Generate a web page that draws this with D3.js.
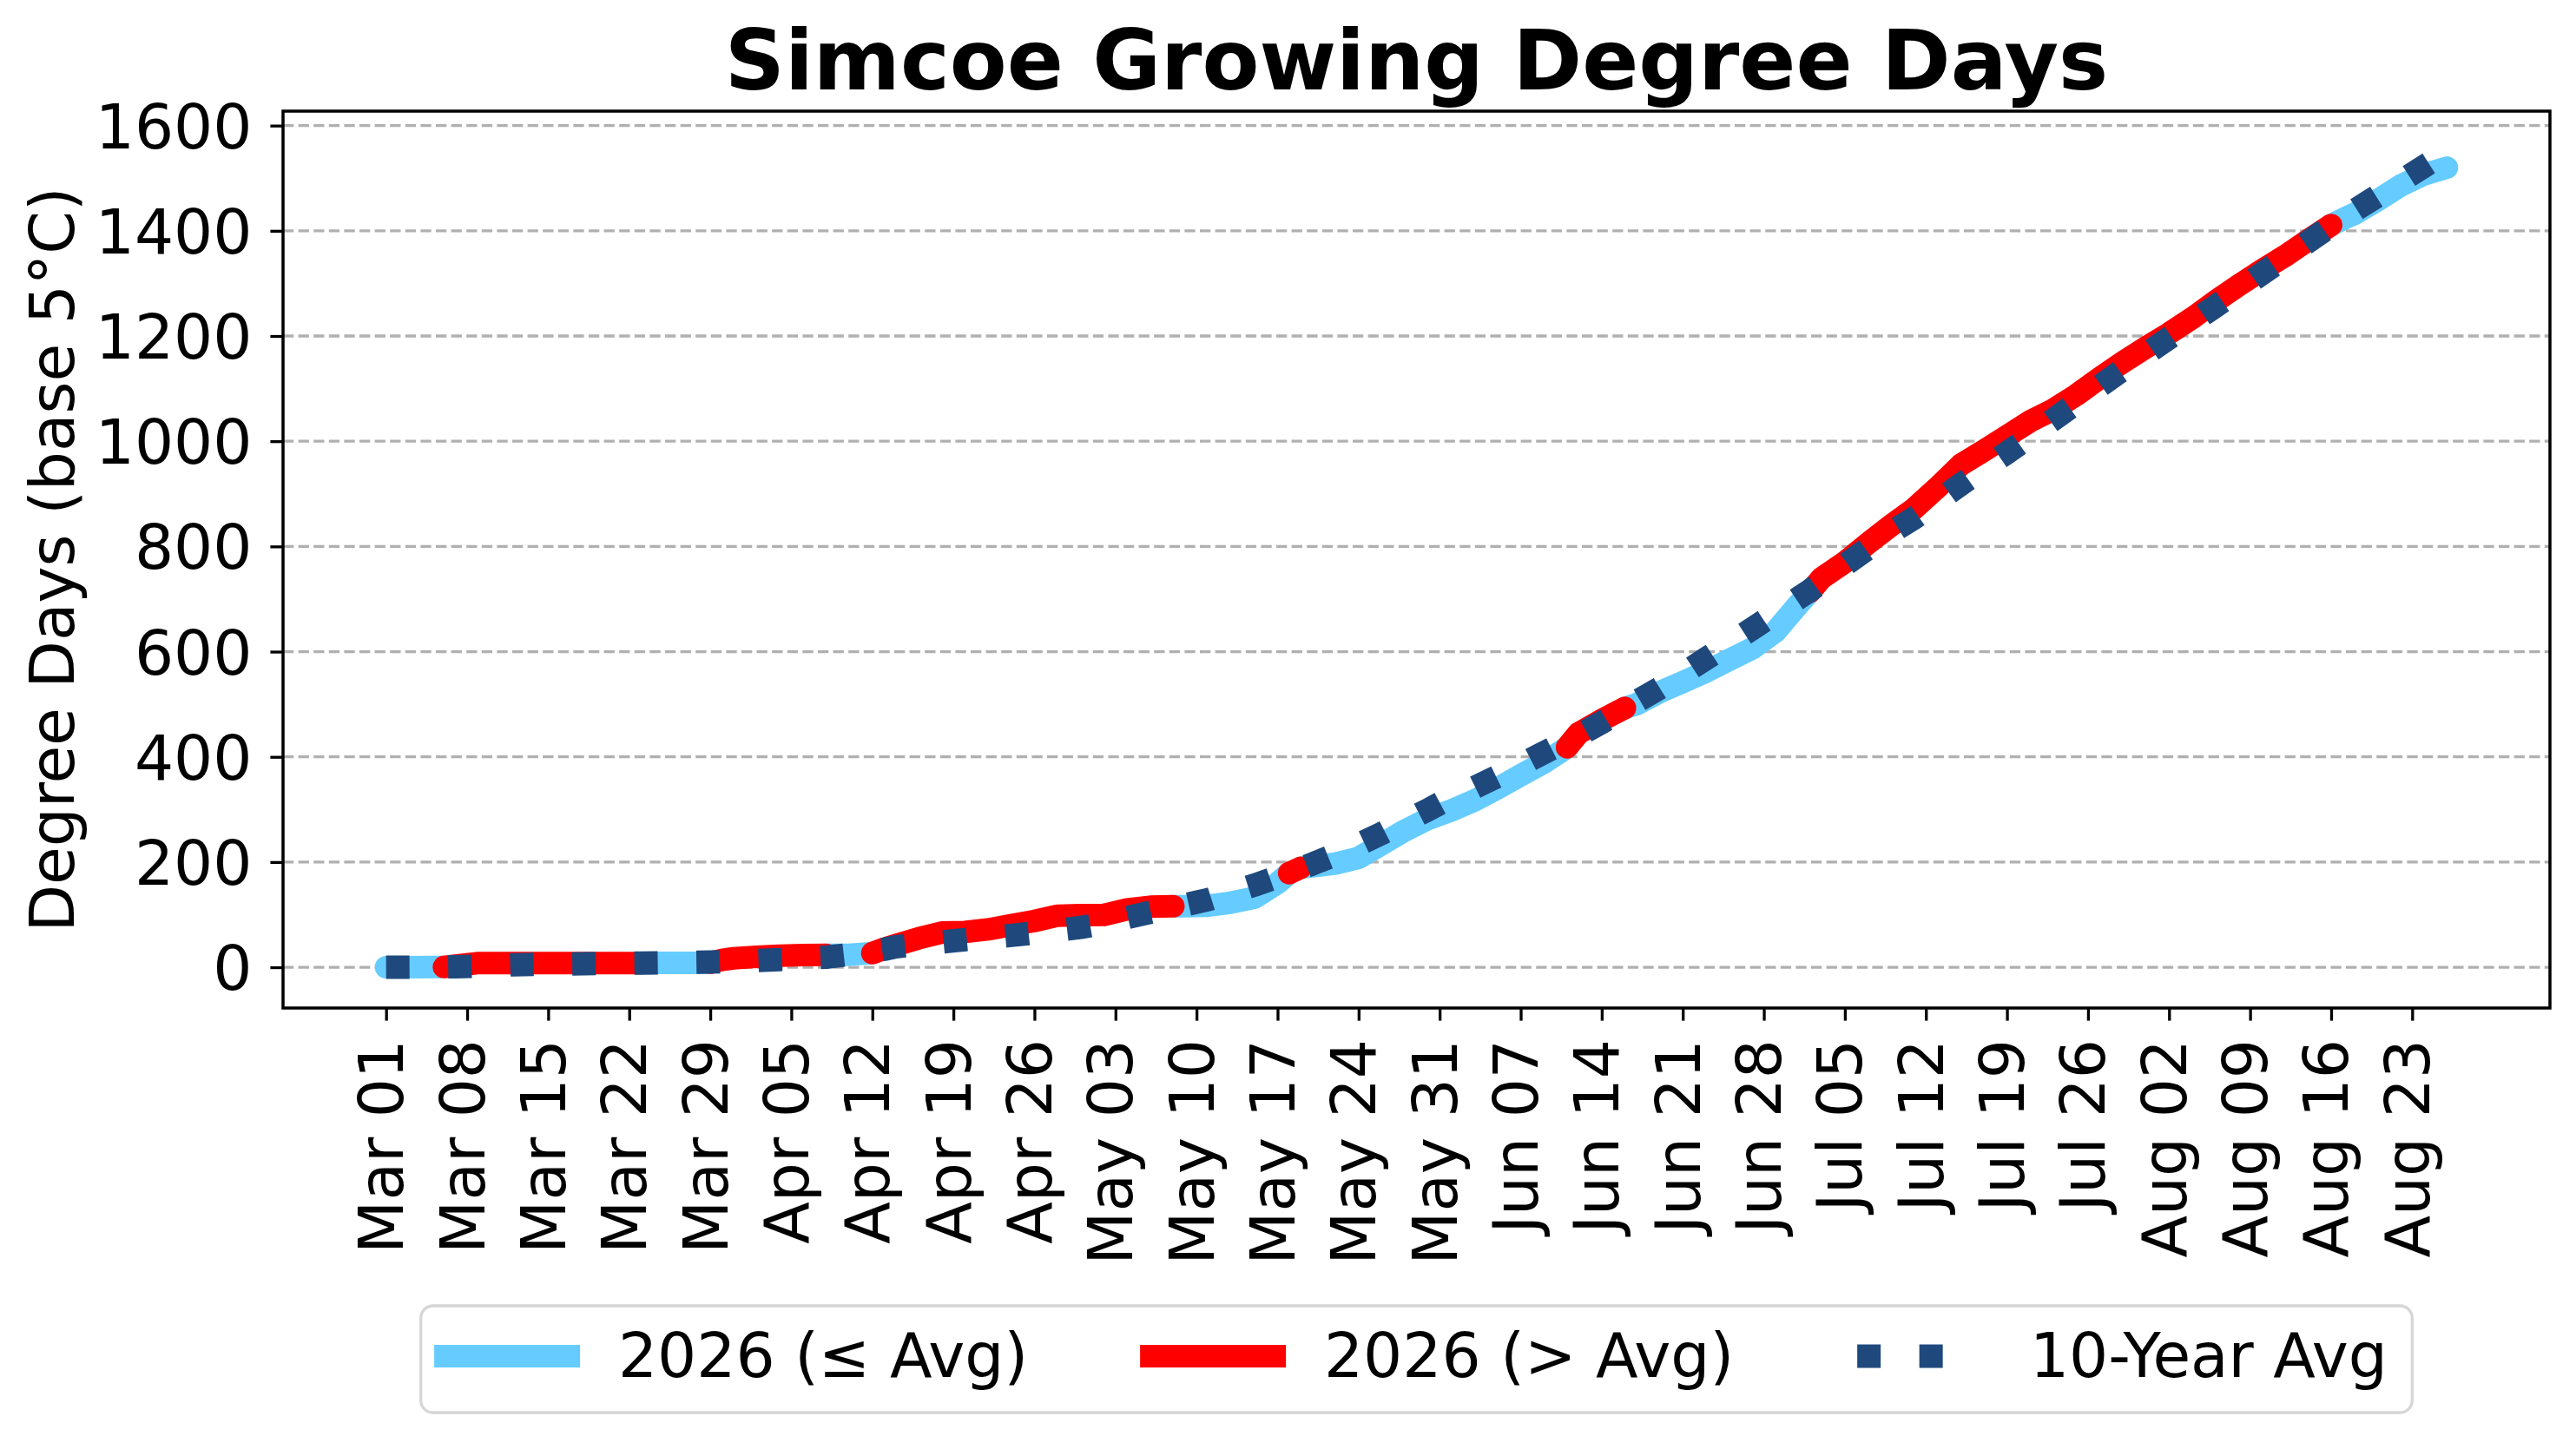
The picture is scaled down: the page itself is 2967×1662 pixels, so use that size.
<!DOCTYPE html>
<html><head><meta charset="utf-8">
<script src="https://cdn.jsdelivr.net/npm/d3@7"></script>
<style>
html,body{margin:0;padding:0;background:#fff;}
svg text{font-family:"DejaVu Sans",sans-serif;fill:#000;}
</style>
</head><body>
<svg id="chart" width="2967" height="1662"></svg>
<script>
// ---------------- data ----------------
const dates = [
 "2026-03-01","2026-03-03","2026-03-05","2026-03-06","2026-03-07","2026-03-09","2026-03-12","2026-03-15","2026-03-18","2026-03-21",
 "2026-03-23","2026-03-25","2026-03-27","2026-03-29","2026-03-30","2026-03-31","2026-04-02","2026-04-04","2026-04-06","2026-04-08",
 "2026-04-10","2026-04-12","2026-04-13","2026-04-14","2026-04-16","2026-04-18","2026-04-20","2026-04-22","2026-04-24","2026-04-26",
 "2026-04-28","2026-04-30","2026-05-02","2026-05-04","2026-05-06","2026-05-08","2026-05-09","2026-05-11","2026-05-13","2026-05-15",
 "2026-05-17","2026-05-18","2026-05-19","2026-05-20","2026-05-22","2026-05-24","2026-05-26","2026-05-28","2026-05-30","2026-06-01",
 "2026-06-03","2026-06-05","2026-06-07","2026-06-09","2026-06-11","2026-06-12","2026-06-14","2026-06-16","2026-06-17","2026-06-19",
 "2026-06-21","2026-06-23","2026-06-25","2026-06-27","2026-06-29","2026-07-01","2026-07-02","2026-07-03","2026-07-05","2026-07-07",
 "2026-07-09","2026-07-11","2026-07-13","2026-07-15","2026-07-17","2026-07-19","2026-07-21","2026-07-23","2026-07-25","2026-07-27",
 "2026-07-29","2026-07-31","2026-08-02","2026-08-04","2026-08-06","2026-08-08","2026-08-10","2026-08-12","2026-08-14","2026-08-16",
 "2026-08-17","2026-08-18","2026-08-20","2026-08-22","2026-08-24","2026-08-26"
];
const gdd2026 = [
 0,0,0.3,0.5,3,8,8,8,8,8,
 8.1,8.2,8.4,8.7,14,17,20,22,23,23.5,
 23.8,27,35,42,55,66,67,72,80,88,
 98,99,99.5,110,115,116,116,117,123,132,
 160,179,189,192,197,208,234,260,282,298,
 317,340,365,389,418,445,470,493,500,523,
 542,562,584,606,638,690,714,740,770,806,
 840,872,912,955,982,1010,1038,1060,1088,1120,
 1150,1178,1205,1234,1266,1296,1325,1352,1382,1411,
 1422,1432,1458,1486,1507,1520
];
const avg10yr = [
 0,0.2,0.5,0.7,0.9,2.3,4.8,6.0,6.6,7.4,
 8.0,8.6,9.3,9.9,10.6,11.3,12.8,14.5,16.8,19.0,
 24,31,34,38.8,43.5,48,52.4,56.4,60.5,65.3,
 70.5,75.7,83.5,94.5,104.4,113.9,118.6,128.5,142.4,156.2,
 171.6,179.8,188,196.3,214,233.6,254.5,276.9,299.4,322.7,
 341.5,362.9,385.4,407.9,429.8,441.2,465.3,491.8,505,530.5,
 558,586.6,615,643.5,672.6,701.9,716.5,732.6,765,796.1,
 826.9,854.2,886,917.8,948.4,978,1009.3,1041,1072.9,1104.7,
 1136,1165.9,1196,1226.2,1256.5,1287.1,1318.2,1348.8,1379.1,1409.5,
 1424,1438.5,1466.2,1494.2,1522.2,1550
];
const yTicks = [0,200,400,600,800,1000,1200,1400,1600];
const titleText = "Simcoe Growing Degree Days";
const yLabelText = "Degree Days (base 5°C)";
const legendLabels = ["2026 (≤ Avg)", "2026 (> Avg)", "10-Year Avg"];

// ---------------- styles ----------------
const COL_LOW = "#66ccff", COL_HIGH = "#ff0000", COL_AVG = "#1f497d";
const FS = 71;
const plot = {left:326, right:2937, top:128, bottom:1161};

const svg = d3.select("#chart");
const parse = d3.utcParse("%Y-%m-%d");
const data = dates.map((d,i)=>({date:parse(d), g:gdd2026[i], a:avg10yr[i]}));

const xMin = d3.min(data, d=>d.date), xMax = d3.max(data, d=>d.date);
const xSpan = xMax - xMin;
const x = d3.scaleUtc()
  .domain([new Date(+xMin - 0.05*xSpan), new Date(+xMax + 0.05*xSpan)])
  .range([plot.left, plot.right]);
const yLo = Math.min(d3.min(gdd2026), d3.min(avg10yr));
const yHi = Math.max(d3.max(gdd2026), d3.max(avg10yr));
const ySpan = yHi - yLo;
const y = d3.scaleLinear()
  .domain([yLo - 0.05*ySpan, yHi + 0.05*ySpan])
  .range([plot.bottom, plot.top]);

// grid
svg.append("g").selectAll("line").data(yTicks).join("line")
  .attr("x1", plot.left).attr("x2", plot.right)
  .attr("y1", d=>y(d)).attr("y2", d=>y(d))
  .attr("stroke", "#b0b0b0").attr("stroke-width", 3.3)
  .attr("stroke-dasharray", "12.3,5.3");

// 2026 line coloured by comparison with the average
const line = d3.line().x(d=>x(d.date)).y(d=>y(d.g));
const runs = [];
let cur = null;
for (let i = 1; i < data.length; i++) {
  const hi = data[i].g > data[i].a;
  if (!cur || cur.hi !== hi) { cur = {hi, pts:[data[i-1]]}; runs.push(cur); }
  cur.pts.push(data[i]);
}
const gLines = svg.append("g");
[false, true].forEach(flag => {
  runs.filter(r => r.hi === flag).forEach(r => {
    gLines.append("path").attr("d", line(r.pts))
      .attr("fill", "none")
      .attr("stroke", flag ? COL_HIGH : COL_LOW)
      .attr("stroke-width", 26)
      .attr("stroke-linecap", "round")
      .attr("stroke-linejoin", "round");
  });
});

// 10-year average dotted line
const avgLine = d3.line().x(d=>x(d.date)).y(d=>y(d.a));
svg.append("path").attr("d", avgLine(data))
  .attr("fill", "none").attr("stroke", COL_AVG)
  .attr("stroke-width", 27).attr("stroke-dasharray", "27,44.5")
  .attr("stroke-linecap", "butt").attr("stroke-linejoin", "round");

// axes
const weekTicks = d3.utcWeek.range(xMin, new Date(+xMax + 1));
const xAxis = d3.axisBottom(x).tickValues(weekTicks)
  .tickFormat(d3.utcFormat("%b %d")).tickSize(14.6).tickPadding(21);
const gx = svg.append("g").attr("transform", `translate(0,${plot.bottom})`).call(xAxis);
gx.select(".domain").remove();
gx.selectAll(".tick line").attr("stroke", "#000").attr("stroke-width", 3.3);
gx.selectAll(".tick text")
  .attr("font-size", FS).attr("font-family", "DejaVu Sans")
  .attr("x", 0).attr("y", 0).attr("dy", null)
  .attr("text-anchor", "end")
  .attr("transform", "translate(19,36) rotate(-90)");

const yAxis = d3.axisLeft(y).tickValues(yTicks).tickFormat(d3.format("d"))
  .tickSize(14.6).tickPadding(21);
const gy = svg.append("g").attr("transform", `translate(${plot.left},0)`).call(yAxis);
gy.select(".domain").remove();
gy.selectAll(".tick line").attr("stroke", "#000").attr("stroke-width", 3.3);
gy.selectAll(".tick text").attr("font-size", FS).attr("font-family", "DejaVu Sans")
  .attr("dy", "0.36em");

// frame
svg.append("rect")
  .attr("x", plot.left).attr("y", plot.top)
  .attr("width", plot.right - plot.left).attr("height", plot.bottom - plot.top)
  .attr("fill", "none").attr("stroke", "#000").attr("stroke-width", 3.5);

// title & y label
svg.append("text").attr("x", (plot.left + plot.right)/2).attr("y", 103)
  .attr("text-anchor", "middle").attr("font-size", 96).attr("font-weight", "bold")
  .text(titleText);
svg.append("text")
  .attr("transform", `translate(85,${(plot.top + plot.bottom)/2}) rotate(-90)`)
  .attr("text-anchor", "middle").attr("font-size", FS)
  .text(yLabelText);

// legend
const handleLen = 2*FS, textPad = 0.8*FS, colSpace = 2*FS, borderPad = 0.4*FS;
const legTop = 1504, legBottom = 1627, handleY = 1562, textY = 1586;
const gLeg = svg.append("g");
const frame = gLeg.append("rect");
const texts = legendLabels.map(t => gLeg.append("text").attr("font-size", FS).attr("y", textY).text(t));
const widths = texts.map(t => t.node().getComputedTextLength());
const total = 2*borderPad + d3.sum(widths) + legendLabels.length*(handleLen + textPad) + (legendLabels.length-1)*colSpace;
let lx = (plot.left + plot.right)/2 - total/2;
frame.attr("x", lx).attr("y", legTop).attr("width", total).attr("height", legBottom - legTop)
  .attr("rx", 14).attr("ry", 14).attr("fill", "#fff").attr("stroke", "#d6d6d6").attr("stroke-width", 3.3);
let cx = lx + borderPad;
const handleStyles = [
  {color: COL_LOW, w: 26, cap: "square", dash: null},
  {color: COL_HIGH, w: 26, cap: "square", dash: null},
  {color: COL_AVG, w: 27, cap: "butt", dash: "27,44.5"}
];
legendLabels.forEach((lab, i) => {
  const hs = handleStyles[i];
  const l = gLeg.append("line").attr("x1", cx).attr("x2", cx + handleLen)
    .attr("y1", handleY).attr("y2", handleY)
    .attr("stroke", hs.color).attr("stroke-width", hs.w).attr("stroke-linecap", hs.cap);
  if (hs.dash) l.attr("stroke-dasharray", hs.dash);
  texts[i].attr("x", cx + handleLen + textPad);
  cx += handleLen + textPad + widths[i] + colSpace;
});
</script>
</body></html>
